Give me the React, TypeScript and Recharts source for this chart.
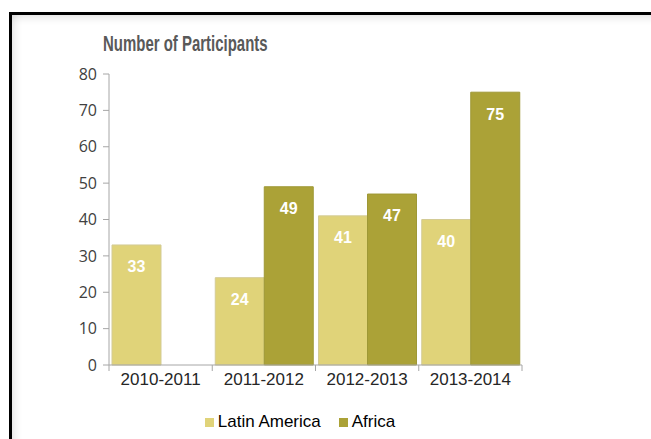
import { BarChart, Bar, XAxis, YAxis, Legend, LabelList } from 'recharts'

const categories = ['2010-2011', '2011-2012', '2012-2013', '2013-2014']
const latinAmerica = [33, 24, 41, 40]
const africa: (number | null)[] = [null, 49, 47, 75]
const yTicks = [0, 10, 20, 30, 40, 50, 60, 70, 80]
const seriesOrder = ['Latin America', 'Africa']

const data = categories.map((period, i) => ({
  period,
  latinAmerica: latinAmerica[i],
  africa: africa[i],
}))

const W = 651
const H = 439
const margin = { top: 74, right: 129, left: 0, bottom: 24 }
const Y_AXIS_W = 109
const BAND = (W - margin.left - margin.right - Y_AXIS_W) / categories.length

// x axis has tick marks on the category boundaries, not the centres
function XTick(props: any) {
  const { x, y, payload, index } = props
  const left = x - BAND / 2
  return (
    <g>
      <line x1={left} x2={left} y1={y - 8} y2={y - 2} stroke="#a6a6a6" />
      {index === categories.length - 1 && (
        <line x1={left + BAND} x2={left + BAND} y1={y - 8} y2={y - 2} stroke="#a6a6a6" />
      )}
      <text x={x} y={y + 12} textAnchor="middle" fontSize={17} fill="#262626" fontFamily="'Liberation Sans', Arial, sans-serif">
        {payload.value}
      </text>
    </g>
  )
}

export default function App() {
  return (
    <div style={{ position: 'fixed', left: 0, top: 0, width: W, height: H, background: '#fff', overflow: 'hidden' }}>
      <div
        style={{
          position: 'absolute',
          left: 9,
          top: 12,
          width: 660,
          height: 460,
          border: '3px solid #000',
          boxShadow: 'inset 0 8px 10px -6px rgba(0,0,0,0.12), inset 8px 0 10px -6px rgba(0,0,0,0.12)',
        }}
      />
      <div
        style={{
          position: 'absolute',
          left: 103,
          top: 31,
          fontFamily: "'Liberation Sans', Arial, sans-serif",
          fontWeight: 'bold',
          fontSize: 22,
          color: '#595959',
          whiteSpace: 'nowrap',
          transform: 'scaleX(0.68)',
          transformOrigin: 'left center',
        }}
      >
        Number of Participants
      </div>
      <div style={{ position: 'absolute', left: 0, top: 0 }}>
        <BarChart width={W} height={H} data={data} margin={margin} barCategoryGap={3} barGap={0}>
          <XAxis
            dataKey="period"
            stroke="#a6a6a6"
            tickLine={false}
            tick={<XTick />}
            height={30}
          />
          <YAxis
            width={Y_AXIS_W}
            domain={[0, 80]}
            ticks={yTicks}
            stroke="#a6a6a6"
            tickSize={6}
            tickMargin={6}
            tick={{ fill: '#404040', fontSize: 16, fontFamily: "'Open Sans', sans-serif" }}
          />
          <Legend
            verticalAlign="bottom"
            iconType="square"
            iconSize={9}
            itemSorter={(item: any) => seriesOrder.indexOf(item.value)}
            wrapperStyle={{ top: 412, left: 0, width: 618, fontSize: 17, fontFamily: "'Liberation Sans', Arial, sans-serif" }}
            formatter={(value) => <span style={{ color: '#000', marginRight: 8 }}>{value}</span>}
          />
          <Bar dataKey="latinAmerica" name="Latin America" fill="#e0d379" stroke="#d3cb95" isAnimationActive={false}>
            <LabelList dataKey="latinAmerica" position="insideTop" offset={16} fill="#fff" fontSize={16} fontWeight="bold" fontFamily="'Liberation Sans', Arial, sans-serif" />
          </Bar>
          <Bar dataKey="africa" name="Africa" fill="#aba237" stroke="#9e9836" isAnimationActive={false}>
            <LabelList dataKey="africa" position="insideTop" offset={16} fill="#fff" fontSize={16} fontWeight="bold" fontFamily="'Liberation Sans', Arial, sans-serif" />
          </Bar>
        </BarChart>
      </div>
    </div>
  )
}
